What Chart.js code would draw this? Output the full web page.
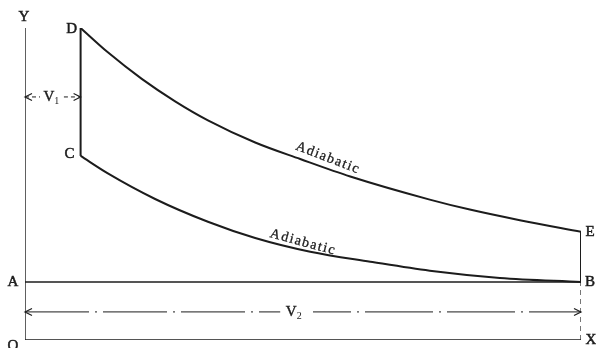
<!DOCTYPE html>
<html>
<head>
<meta charset="utf-8">
<script src="https://cdn.jsdelivr.net/npm/chart.js@4.4.1/dist/chart.umd.min.js"></script>
<style>
    html, body { margin: 0; padding: 0; background: #ffffff; }
    #wrap { width: 596px; height: 348px; position: relative; }
</style>
</head>
<body>
<div id="wrap"><canvas id="pv"></canvas></div>
<script>
/*
 *  P-V diagram, constant volume cycle
 *  volume on x (O = 0, B = 100), pressure on y (O = 0, D = 100)
 */

// upper adiabatic, D -> E
var upperV = [10, 14.9, 21.0, 27.0, 32.9, 41.4, 49.5, 58.5, 72.8, 80.0, 89.0, 100];
var upperP = [100, 92.2, 83.7, 76.5, 70.4, 63.3, 58.0, 52.4, 45.0, 41.8, 38.4, 34.7];

// lower adiabatic, C -> B
var lowerV = [10, 14.9, 23.4, 32.9, 41.4, 51.3, 62.1, 72.8, 85.4, 100];
var lowerP = [59.0, 53.4, 45.2, 37.9, 32.7, 28.3, 25.1, 22.2, 19.9, 18.6];

// key states
var V1 = 10, V2 = 100;
var P_D = 100, P_C = 59.0, P_E = 34.7, P_B = 18.6;
var P_axisTop = 100;

// dimension lines (height on the pressure scale)
var dimV1 = 77.9;
var dimV2 = 9;

var INK = '#1c1c1c';
var SERIF = "'Liberation Serif', 'DejaVu Serif', serif";

function pts(xs, ys) {
    return xs.map(function (x, i) { return { x: x, y: ys[i] }; });
}

function seg(x1, y1, x2, y2, width, dash, offset) {
    return {
        data: [{ x: x1, y: y1 }, { x: x2, y: y2 }],
        borderColor: INK,
        borderWidth: width,
        borderDash: dash || [],
        borderDashOffset: offset || 0,
        pointRadius: 0,
        showLine: true,
        tension: 0
    };
}

function curve(xs, ys) {
    return {
        data: pts(xs, ys),
        borderColor: INK,
        borderWidth: 2,
        pointRadius: 0,
        showLine: true,
        cubicInterpolationMode: 'monotone'
    };
}

/* ---- labels, placed on data coordinates ---- */

var letters = [
    { t: 'Y', x: 0,   y: P_axisTop, dx: -1,  dy: -11 },
    { t: 'D', x: V1,  y: P_D,       dx: -9,  dy: 1 },
    { t: 'C', x: V1,  y: P_C,       dx: -11, dy: -2 },
    { t: 'E', x: V2,  y: P_E,       dx: 9,   dy: 0 },
    { t: 'B', x: V2,  y: P_B,       dx: 9,   dy: 0 },
    { t: 'A', x: 0,   y: P_B,       dx: -12, dy: 0 },
    { t: 'O', x: 0,   y: 0,         dx: -12, dy: 6 },
    { t: 'X', x: V2,  y: 0,         dx: 10,  dy: 0 }
];

var adiabatLabels = [
    { x: 54.5, y: 58.3, angle: 21 },
    { x: 50.0, y: 31.3, angle: 15 }
];

var diagramLabels = {
    id: 'diagramLabels',
    afterDatasetsDraw: function (chart) {
        var c = chart.ctx, xs = chart.scales.x, ys = chart.scales.y;
        c.save();
        c.fillStyle = INK;
        c.strokeStyle = INK;
        c.textAlign = 'center';
        c.textBaseline = 'middle';

        c.font = '15px ' + SERIF;
        c.lineWidth = 0.5;
        letters.forEach(function (l) {
            var px = xs.getPixelForValue(l.x) + l.dx, py = ys.getPixelForValue(l.y) + l.dy;
            c.fillText(l.t, px, py);
            c.strokeText(l.t, px, py);
        });

        c.font = '14px ' + SERIF;
        if ('letterSpacing' in c) { c.letterSpacing = '1.5px'; }
        adiabatLabels.forEach(function (a) {
            c.save();
            c.translate(xs.getPixelForValue(a.x), ys.getPixelForValue(a.y));
            c.rotate(a.angle * Math.PI / 180);
            c.lineWidth = 0.3;
            c.fillText('Adiabatic', 0, 0);
            c.strokeText('Adiabatic', 0, 0);
            c.restore();
        });
        if ('letterSpacing' in c) { c.letterSpacing = '0px'; }

        // V1 and V2 with subscripts
        function vlabel(x, y, sub) {
            var px = xs.getPixelForValue(x), py = ys.getPixelForValue(y);
            c.font = '15px ' + SERIF;
            c.textAlign = 'right';
            c.lineWidth = 0.4;
            c.fillText('V', px + 2, py);
            c.strokeText('V', px + 2, py);
            c.font = '10px ' + SERIF;
            c.textAlign = 'left';
            c.fillText(sub, px + 2, py + 4);
        }
        vlabel(4.9, dimV1, '1');
        vlabel(48.5, dimV2, '2');

        // open arrowheads on the dimension lines
        function arrow(x, y, dir) {
            var px = xs.getPixelForValue(x), py = ys.getPixelForValue(y);
            c.beginPath();
            c.lineWidth = 1.2;
            c.moveTo(px - dir * 7, py - 3.5);
            c.lineTo(px, py);
            c.lineTo(px - dir * 7, py + 3.5);
            c.stroke();
        }
        arrow(0, dimV1, -1);
        arrow(V1, dimV1, 1);
        arrow(0, dimV2, -1);
        arrow(V2, dimV2, 1);

        c.restore();
    }
};

new Chart(document.getElementById('pv').getContext('2d'), {
    type: 'scatter',
    data: {
        datasets: [
            // axes and atmospheric line
            seg(0, 0, 0, P_axisTop, 1.4),
            seg(0, 0, V2, 0, 1.4),
            seg(0, P_B, V2, P_B, 1.4),
            seg(V2, 0, V2, P_B, 1.2, [5, 4]),
            // cycle
            seg(V1, P_C, V1, P_D, 2),
            curve(upperV, upperP),
            seg(V2, P_E, V2, P_B, 2),
            curve(lowerV, lowerP),
            // dimension lines
            seg(0, dimV1, 2.7, dimV1, 1, [4, 3]),
            seg(7.0, dimV1, V1, dimV1, 1, [4, 3]),
            seg(0, dimV2, 45.9, dimV2, 1, [64, 6, 2, 6]),
            seg(51.8, dimV2, V2, dimV2, 1, [68, 6, 2, 6], 30)
        ]
    },
    options: {
        responsive: true,
        maintainAspectRatio: false,
        animation: false,
        layout: { padding: { left: 25, right: 15, top: 28, bottom: 8 } },
        plugins: {
            legend: { display: false },
            tooltip: { enabled: false }
        },
        scales: {
            x: { type: 'linear', min: 0, max: 100, display: false },
            y: { type: 'linear', min: 0, max: 100, display: false }
        }
    },
    plugins: [diagramLabels]
});
</script>
</body>
</html>
